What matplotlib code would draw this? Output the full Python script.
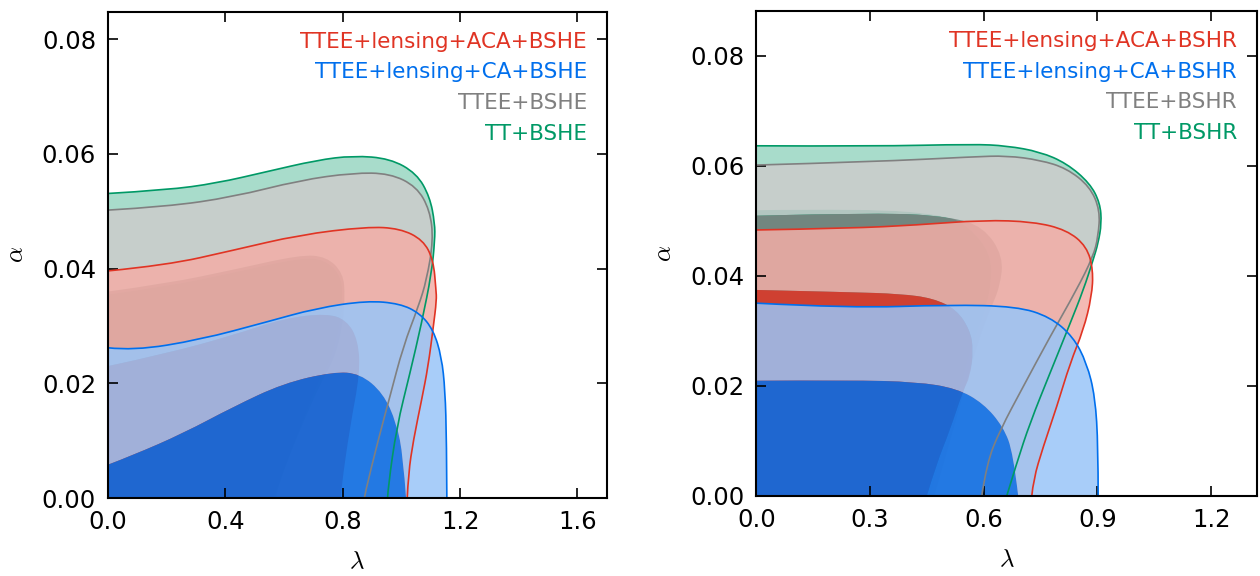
import matplotlib
matplotlib.use("Agg")
import matplotlib.pyplot as plt
from matplotlib.path import Path
from matplotlib.patches import PathPatch
import numpy as np

plt.rcParams['font.family'] = ['DejaVu Sans']
plt.rcParams['mathtext.fontset'] = 'cm'

# contour boundaries (lambda, alpha); each runs from the alpha axis to the lambda axis
left_green_outer = [(0, .0531), (.2, .0537), (.371, .0549), (.541, .0569), (.711, .0589), (.836, .0597),
                    (.961, .0592), (1.052, .0566), (1.097, .0525), (1.114, .0479), (1.114, .045), (1.103, .0392),
                    (1.069, .0305), (1.029, .0217), (.984, .0124), (.955, .002), (.953, 0)]
left_green_inner = [(0, .0355), (.2, .0369), (.427, .0393), (.654, .0419), (.74, .0416), (.795, .0388),
                    (.80, .035), (.79, .030), (.76, .024), (.70, .0188), (.565, 0)]
left_gray_outer = [(0, .0502), (.2, .0508), (.427, .0525), (.654, .0554), (.836, .0567), (.961, .0566),
                   (1.052, .0543), (1.097, .0502), (1.109, .045), (1.086, .038), (1.058, .0334), (1.006, .0264),
                   (.961, .0177), (.921, .0101), (.876, .0008), (.874, 0)]
left_gray_inner = [(0, .036), (.2, .0374), (.427, .0398), (.654, .0424), (.745, .0421), (.802, .0392),
                   (.808, .0351), (.80, .030), (.77, .024), (.711, .0188), (.575, .002), (.573, 0)]
left_red_outer = [(0, .0396), (.2, .0406), (.427, .0432), (.654, .0459), (.882, .0473), (.995, .047),
                  (1.074, .045), (1.109, .0415), (1.118, .0363), (1.12, .0345), (1.109, .0299), (1.091, .0229),
                  (1.069, .0171), (1.041, .0101), (1.024, .0043), (1.02, 0)]
left_red_inner = [(0, .023), (.2, .0252), (.427, .0284), (.598, .0313), (.745, .0322), (.814, .031),
                  (.853, .0275), (.859, .0217), (.825, .0124), (.796, .002), (.793, 0)]
left_blue_outer = [(0, .0262), (.087, .0257), (.314, .0276), (.541, .0307), (.711, .0331), (.882, .0344),
                   (.995, .0339), (1.063, .0322), (1.109, .0293), (1.137, .0246), (1.149, .0188), (1.154, .0101),
                   (1.155, 0)]
left_blue_inner = [(0, .0058), (.087, .0075), (.257, .0113), (.427, .0159), (.598, .02), (.768, .022),
                   (.859, .0217), (.938, .0183), (.984, .013), (1.006, .0072), (1.016, 0)]

right_green_outer = [(0, .0636), (.309, .0635), (.573, .0639), (.661, .0636), (.749, .0625), (.819, .0604),
                     (.88, .0568), (.907, .0532), (.911, .0495), (.902, .0459), (.889, .0429), (.863, .0374),
                     (.828, .0313), (.775, .0223), (.722, .0132), (.687, .0059), (.661, 0)]
right_green_inner = [(0, .0519), (.3, .0522), (.5, .051), (.56, .049), (.62, .044), (.62, .038),
                     (.6, .033), (.57, .028), (.54, .02), (.5, .01), (.46, 0)]
right_gray_outer = [(0, .0601), (.309, .0607), (.573, .0616), (.661, .0618), (.749, .061), (.819, .0595),
                    (.88, .0562), (.907, .0519), (.902, .0471), (.889, .0435), (.845, .0374), (.775, .0289),
                    (.704, .0198), (.643, .0119), (.608, .0059), (.595, 0)]
right_gray_inner = [(0, .0509), (.335, .0515), (.511, .0507), (.599, .0489), (.652, .0435), (.643, .038),
                    (.617, .0338), (.59, .0289), (.56, .022), (.52, .012), (.47, 0)]
right_red_outer = [(0, .0483), (.247, .0486), (.423, .0492), (.599, .0501), (.731, .0498), (.819, .0483),
                   (.872, .0453), (.889, .041), (.885, .0362), (.863, .0301), (.828, .0241), (.793, .0162),
                   (.757, .0089), (.731, .0029), (.727, 0)]
right_red_inner = [(0, .0374), (.247, .037), (.379, .0367), (.467, .0359), (.529, .0338), (.564, .0301),
                   (.573, .0265), (.564, .0216), (.546, .0192), (.511, .0119), (.476, .0059), (.45, 0)]
right_blue_outer = [(0, .035), (.247, .0341), (.511, .0347), (.687, .0344), (.775, .0325), (.836, .0289),
                    (.872, .0241), (.894, .018), (.902, .0089), (.902, 0)]
right_blue_inner = [(0, .0209), (.247, .021), (.423, .0207), (.529, .0195), (.599, .0168), (.652, .0125),
                    (.678, .0077), (.691, 0)]

left_labels = ['TTEE+lensing+ACA+BSHE', 'TTEE+lensing+CA+BSHE', 'TTEE+BSHE', 'TT+BSHE']
right_labels = ['TTEE+lensing+ACA+BSHR', 'TTEE+lensing+CA+BSHR', 'TTEE+BSHR', 'TT+BSHR']
colors = ['#E03424', '#006FED', 'gray', '#009966']   # same order as labels

left_xticks = [0.0, 0.4, 0.8, 1.2, 1.6]
right_xticks = [0.0, 0.3, 0.6, 0.9, 1.2]
yticks = [0.00, 0.02, 0.04, 0.06, 0.08]


def pale(c):
    rgb = np.array(matplotlib.colors.to_rgb(c))
    return tuple(rgb * 0.4 + 0.6)


def smooth(pts):
    # quadratic bezier through the midpoints, starting and ending on the read points
    pts = np.asarray(pts, float)
    n = len(pts)
    verts, codes = [], []
    for k in range(1, n - 1):
        end = pts[k + 1] if k == n - 2 else (pts[k] + pts[k + 1]) / 2
        verts += [pts[k], end]
        codes += [Path.CURVE3, Path.CURVE3]
    return verts, codes


def curve_path(pts):
    v, c = smooth(pts)
    return Path([pts[0]] + v, [Path.MOVETO] + c)


def inner_path(pts):
    v, c = smooth(pts)
    verts = [pts[0]] + v + [(0, 0), (0, 0)]
    codes = [Path.MOVETO] + c + [Path.LINETO, Path.CLOSEPOLY]
    return Path(verts, codes)


def band_path(outer, inner):
    vo, co = smooth(outer)
    rev = inner[::-1]
    vi, ci = smooth(rev)
    verts = [outer[0]] + vo + [rev[0]] + vi + [outer[0]]
    codes = [Path.MOVETO] + co + [Path.LINETO] + ci + [Path.CLOSEPOLY]
    return Path(verts, codes)


def draw_panel(ax, contours, labels, xticks, xmax, ymax):
    # contours: list of (outer, inner, color), bottom first
    for outer, inner, col in contours:
        ax.add_patch(PathPatch(band_path(outer, inner), fc=pale(col), ec='none', alpha=0.85))
        ax.add_patch(PathPatch(inner_path(inner), fc=col, ec='none', alpha=0.85))
    for outer, inner, col in contours:
        ax.add_patch(PathPatch(curve_path(outer), fill=False, ec=col, lw=1.2, zorder=5))
    ax.set_xlim(0, xmax)
    ax.set_ylim(0, ymax)
    ax.set_xticks(xticks)
    ax.set_yticks(yticks)
    ax.xaxis.set_major_formatter(matplotlib.ticker.FormatStrFormatter('%.1f'))
    ax.yaxis.set_major_formatter(matplotlib.ticker.FormatStrFormatter('%.2f'))
    ax.tick_params(direction='in', length=7.5, width=1.2, top=True, right=True,
                   labelsize=17.5, pad=8.5)
    for s in ax.spines.values():
        s.set_linewidth(1.5)
        s.set_zorder(6)
    ax.set_xlabel(r'$\lambda$', fontsize=18, labelpad=11)
    ax.set_ylabel(r'$\alpha$', fontsize=18, labelpad=10)
    ys = [0.938, 0.875, 0.812, 0.749]
    for lab, col, y in zip(labels, colors, ys):
        ax.text(0.96, y, lab, color=col, fontsize=15.5, ha='right', va='center',
                transform=ax.transAxes)


fig = plt.figure(figsize=(12.6, 5.76), dpi=100)
ax1 = fig.add_axes([0.0856, 0.1354, 0.396, 0.8443])
ax2 = fig.add_axes([0.6002, 0.1394, 0.3974, 0.8415])

draw_panel(ax1, [(left_green_outer, left_green_inner, colors[3]),
                 (left_gray_outer, left_gray_inner, colors[2]),
                 (left_red_outer, left_red_inner, colors[0]),
                 (left_blue_outer, left_blue_inner, colors[1])],
           left_labels, left_xticks, 1.7, 0.0848)
draw_panel(ax2, [(right_green_outer, right_green_inner, colors[3]),
                 (right_gray_outer, right_gray_inner, colors[2]),
                 (right_red_outer, right_red_inner, colors[0]),
                 (right_blue_outer, right_blue_inner, colors[1])],
           right_labels, right_xticks, 1.321, 0.0881)

fig.savefig('out.png', dpi=100)
